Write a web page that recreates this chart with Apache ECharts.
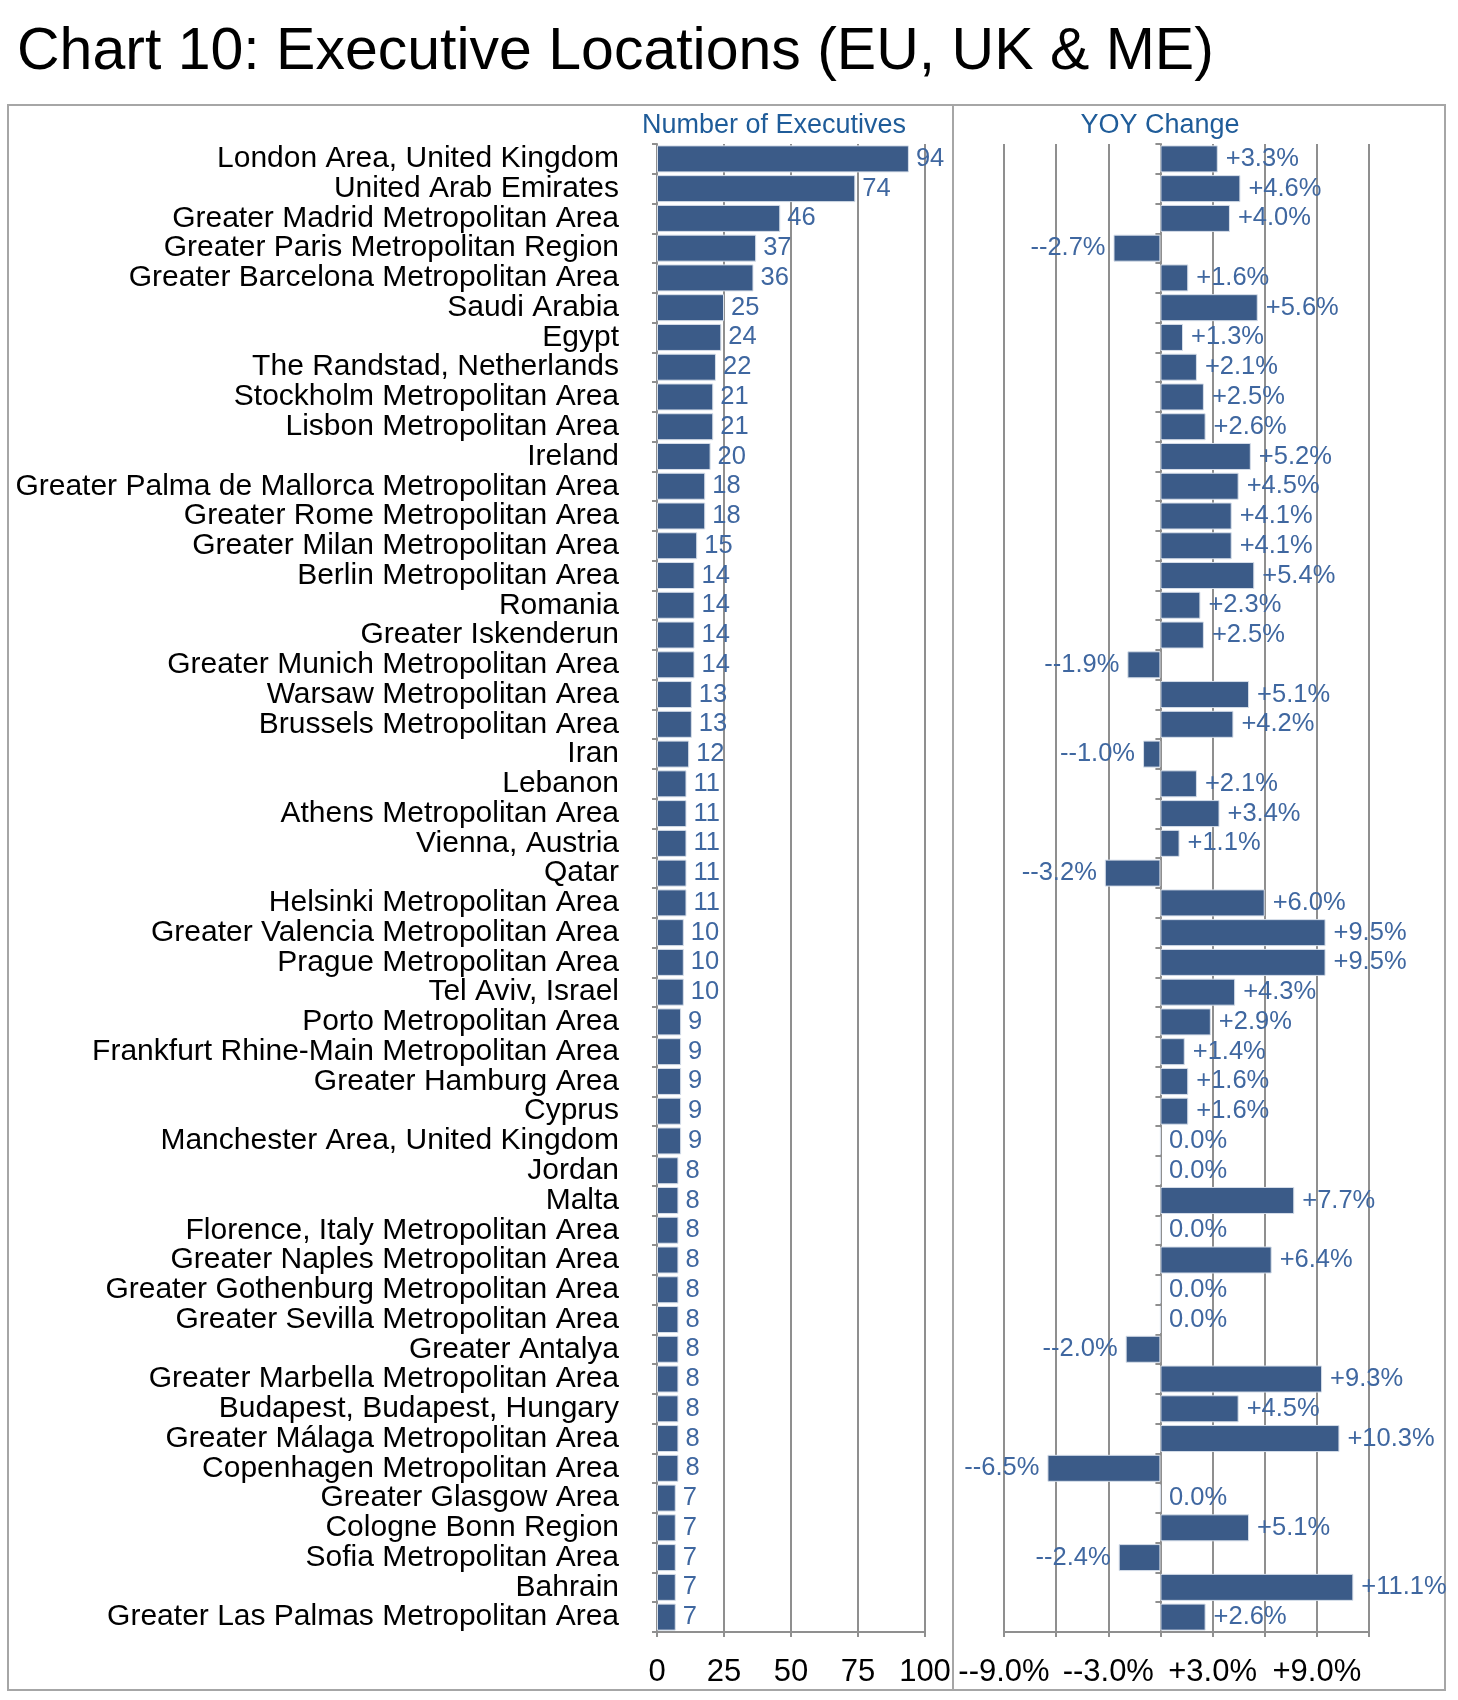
<!DOCTYPE html>
<html><head><meta charset="utf-8">
<script src="https://cdn.jsdelivr.net/npm/echarts@6/dist/echarts.min.js"></script>
<style>html,body{margin:0;padding:0;background:#fff}#c{width:1458px;height:1700px}</style>
</head><body><div id="c"></div>
<script>
const categories = [
  'London Area, United Kingdom','United Arab Emirates','Greater Madrid Metropolitan Area','Greater Paris Metropolitan Region',
  'Greater Barcelona Metropolitan Area','Saudi Arabia','Egypt','The Randstad, Netherlands','Stockholm Metropolitan Area',
  'Lisbon Metropolitan Area','Ireland','Greater Palma de Mallorca Metropolitan Area','Greater Rome Metropolitan Area',
  'Greater Milan Metropolitan Area','Berlin Metropolitan Area','Romania','Greater Iskenderun','Greater Munich Metropolitan Area',
  'Warsaw Metropolitan Area','Brussels Metropolitan Area','Iran','Lebanon','Athens Metropolitan Area','Vienna, Austria','Qatar',
  'Helsinki Metropolitan Area','Greater Valencia Metropolitan Area','Prague Metropolitan Area','Tel Aviv, Israel',
  'Porto Metropolitan Area','Frankfurt Rhine-Main Metropolitan Area','Greater Hamburg Area','Cyprus',
  'Manchester Area, United Kingdom','Jordan','Malta','Florence, Italy Metropolitan Area','Greater Naples Metropolitan Area',
  'Greater Gothenburg Metropolitan Area','Greater Sevilla Metropolitan Area','Greater Antalya','Greater Marbella Metropolitan Area',
  'Budapest, Budapest, Hungary','Greater Málaga Metropolitan Area','Copenhagen Metropolitan Area','Greater Glasgow Area',
  'Cologne Bonn Region','Sofia Metropolitan Area','Bahrain','Greater Las Palmas Metropolitan Area'
];
const executives = [94,74,46,37,36,25,24,22,21,21,20,18,18,15,14,14,14,14,13,13,12,11,11,11,11,11,10,10,10,9,9,9,9,9,8,8,8,8,8,8,8,8,8,8,8,7,7,7,7,7];
const yoyChange = [3.3,4.6,4.0,-2.7,1.6,5.6,1.3,2.1,2.5,2.6,5.2,4.5,4.1,4.1,5.4,2.3,2.5,-1.9,5.1,4.2,-1.0,2.1,3.4,1.1,-3.2,6.0,9.5,9.5,4.3,2.9,1.4,1.6,1.6,0.0,0.0,7.7,0.0,6.4,0.0,0.0,-2.0,9.3,4.5,10.3,-6.5,0.0,5.1,-2.4,11.1,2.6];
const yoyLabeledTicks = [-9, -3, 3, 9];

const FONT = '"Liberation Sans", Arial, Helvetica, sans-serif';
const GRAY = '#8f8f8f';
const BAR = '#3b5b88';
const LBL = '#3f67a0';

function fmtPct(v) {
  if (v > 0) return '+' + v.toFixed(1) + '%';
  if (v < 0) return '--' + Math.abs(v).toFixed(1) + '%';
  return '0.0%';
}

const chart = echarts.init(document.getElementById('c'), null, {renderer: 'canvas'});

const axisLineStyle = {color: GRAY, width: 2};
const option = {
  animation: false,
  backgroundColor: '#fff',
  grid: [
    {left: 657, width: 268, top: 144, bottom: 68},
    {left: 1004, width: 365, top: 144, bottom: 68}
  ],
  xAxis: [
    {gridIndex: 0, type: 'value', min: 0, max: 100, interval: 25,
     axisLine: {show: true, lineStyle: axisLineStyle},
     axisTick: {show: true, length: 5, lineStyle: axisLineStyle},
     splitLine: {show: true, lineStyle: axisLineStyle},
     axisLabel: {fontSize: 31, color: '#000', fontFamily: FONT, margin: 25}},
    {gridIndex: 1, type: 'value', min: -9, max: 12, interval: 3,
     axisLine: {show: true, lineStyle: axisLineStyle},
     axisTick: {show: true, length: 5, lineStyle: axisLineStyle},
     splitLine: {show: true, lineStyle: axisLineStyle},
     axisLabel: {fontSize: 31, color: '#000', fontFamily: FONT, margin: 25,
       formatter: v => yoyLabeledTicks.indexOf(Math.round(v)) >= 0 ? fmtPct(v) : ''}}
  ],
  yAxis: [
    {gridIndex: 0, type: 'category', data: categories, inverse: true,
     axisLine: {show: true, lineStyle: axisLineStyle},
     axisTick: {show: true, length: 5, lineStyle: axisLineStyle},
     splitLine: {show: false},
     axisLabel: {fontSize: 30, color: '#000', fontFamily: FONT, margin: 38, interval: 0}},
    {gridIndex: 1, type: 'category', data: categories, inverse: true,
     axisLine: {show: true, lineStyle: axisLineStyle},
     axisTick: {show: true, length: 5, lineStyle: axisLineStyle},
     splitLine: {show: false},
     axisLabel: {show: false}}
  ],
  series: [
    {type: 'bar', xAxisIndex: 0, yAxisIndex: 0, data: executives, barWidth: 27,
     itemStyle: {color: BAR, borderColor: '#d6dee9', borderWidth: 1},
     label: {show: true, position: 'right', distance: 7, fontSize: 25.5, color: LBL, fontFamily: FONT}},
    {type: 'bar', xAxisIndex: 1, yAxisIndex: 1, barWidth: 27,
     data: yoyChange.map(v => ({value: v, label: {position: v < 0 ? 'left' : 'right'}})),
     itemStyle: {color: BAR, borderColor: '#d6dee9', borderWidth: 1},
     label: {show: true, distance: 8, fontSize: 25.5, color: LBL, fontFamily: FONT,
       formatter: p => fmtPct(p.value)}}
  ],
  graphic: [
    {type: 'rect', shape: {x: 8, y: 105, width: 1437, height: 1585},
     style: {fill: 'none', stroke: '#a6a6a6', lineWidth: 2}, z: -1},
    {type: 'line', shape: {x1: 953, y1: 105, x2: 953, y2: 1690},
     style: {stroke: '#a6a6a6', lineWidth: 2}, z: -1},
    {type: 'text', x: 17, y: 53,
     style: {text: 'Chart 10: Executive Locations (EU, UK & ME)', fontSize: 59, fontFamily: FONT,
       fill: '#000', textVerticalAlign: 'middle', verticalAlign: 'middle'}},
    {type: 'text', x: 774, y: 126,
     style: {text: 'Number of Executives', fontSize: 27, fontFamily: FONT, fill: '#1f5c99',
       align: 'center', verticalAlign: 'middle', textAlign: 'center', textVerticalAlign: 'middle'}},
    {type: 'text', x: 1160, y: 126,
     style: {text: 'YOY Change', fontSize: 27, fontFamily: FONT, fill: '#1f5c99',
       align: 'center', verticalAlign: 'middle', textAlign: 'center', textVerticalAlign: 'middle'}}
  ]
};
chart.setOption(option);
</script>
</body></html>
